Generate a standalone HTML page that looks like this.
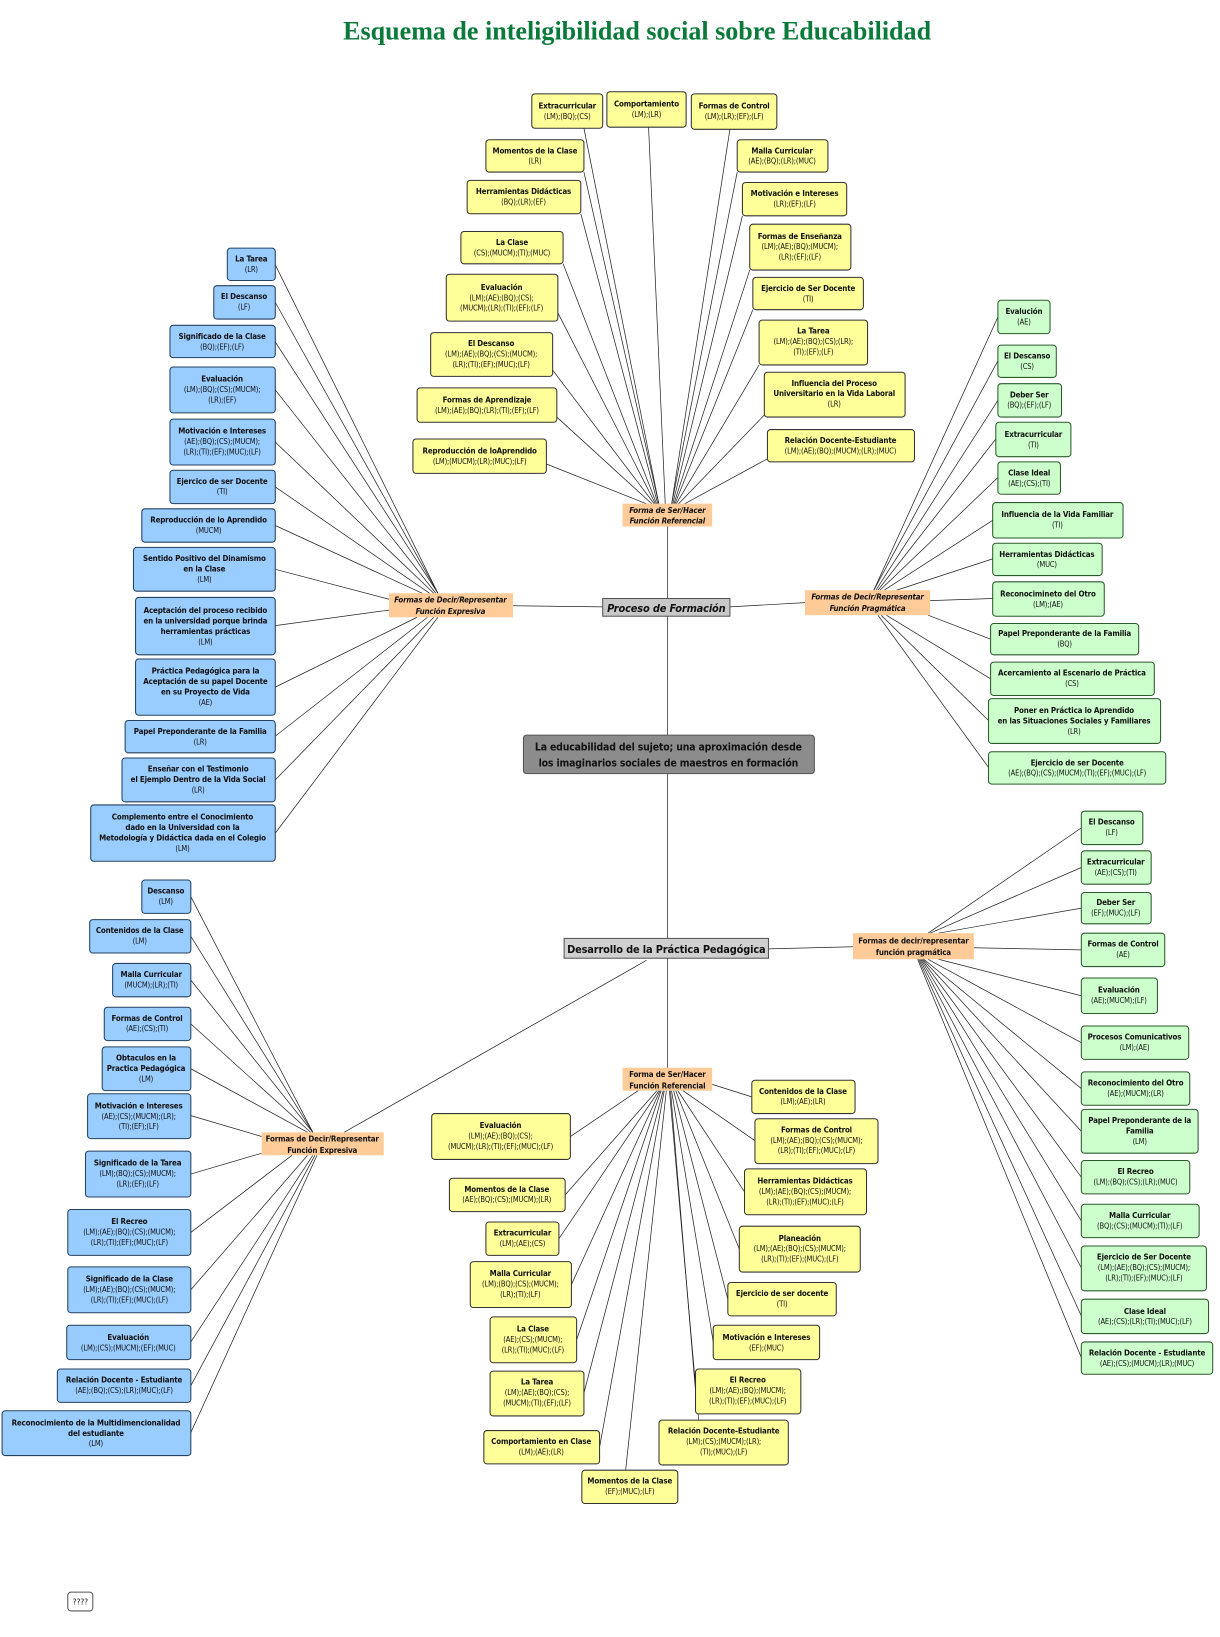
<!DOCTYPE html>
<html><head><meta charset="utf-8"><style>
html,body{margin:0;padding:0;background:#fff;}
svg{display:block}
text{font-family:"Liberation Sans Narrow","DejaVu Sans Condensed","Liberation Sans",sans-serif;text-anchor:middle;fill:#111;font-size:7.2px;letter-spacing:-0.15px}
.t{font-weight:bold;font-size:7.6px}
.y rect{fill:#ffff99;stroke:#333;stroke-width:1}
.b rect{fill:#99ccff;stroke:#24425f;stroke-width:1}
.g rect{fill:#ccffcc;stroke:#2d5a2d;stroke-width:1}
.h rect{fill:#ffcc99;stroke:none}
.h text{font-style:italic;font-weight:bold;font-size:7.6px}
.c rect{stroke:#555;stroke-width:1}
line{stroke:#222;stroke-width:0.7}
</style></head><body>
<svg width="1220" height="1637" viewBox="0 0 1170 1570" preserveAspectRatio="none" xmlns="http://www.w3.org/2000/svg">
<text x="611" y="38" style="font-family:'Liberation Serif',serif;font-size:25px;font-weight:bold;fill:#0a7a3a;letter-spacing:0">Esquema de inteligibilidad social sobre Educabilidad</text>

<g>
<line x1="560" y1="123" x2="632" y2="484"/><line x1="622" y1="122" x2="638" y2="484"/><line x1="700" y1="124" x2="644" y2="484"/>
<line x1="560" y1="165" x2="632" y2="484"/><line x1="557" y1="205" x2="631" y2="484"/><line x1="540" y1="253" x2="630" y2="484"/>
<line x1="535" y1="300" x2="629" y2="484"/><line x1="530" y1="355" x2="628" y2="484"/><line x1="534" y1="400" x2="626" y2="484"/>
<line x1="524" y1="445" x2="622" y2="484"/>
<line x1="707" y1="165" x2="644" y2="484"/><line x1="712" y1="207" x2="645" y2="484"/><line x1="719" y1="259" x2="646" y2="484"/>
<line x1="722" y1="297" x2="647" y2="484"/><line x1="728" y1="350" x2="648" y2="484"/><line x1="733" y1="398" x2="650" y2="484"/>
<line x1="736" y1="440" x2="655" y2="484"/>
<line x1="640" y1="505" x2="640" y2="574"/><line x1="578" y1="582" x2="492" y2="581"/><line x1="700" y1="582" x2="772" y2="578"/>
<line x1="640" y1="591" x2="640" y2="705"/><line x1="640" y1="742" x2="640" y2="900"/>
<line x1="737" y1="910" x2="818" y2="908"/><line x1="620" y1="921" x2="330" y2="1086"/><line x1="640" y1="919" x2="640" y2="1024"/>
<line x1="264" y1="254" x2="420" y2="569"/><line x1="264" y1="290" x2="420" y2="569"/><line x1="264" y1="328" x2="420" y2="569"/>
<line x1="264" y1="374" x2="418" y2="569"/><line x1="264" y1="424" x2="416" y2="569"/><line x1="264" y1="467" x2="412" y2="569"/>
<line x1="264" y1="504" x2="405" y2="569"/><line x1="264" y1="546" x2="374" y2="575"/><line x1="264" y1="600" x2="374" y2="585"/>
<line x1="264" y1="659" x2="400" y2="592"/><line x1="264" y1="706" x2="410" y2="592"/><line x1="264" y1="748" x2="416" y2="592"/>
<line x1="264" y1="799" x2="420" y2="592"/>
<line x1="957" y1="304" x2="838" y2="566"/><line x1="957" y1="346" x2="838" y2="566"/><line x1="957" y1="384" x2="840" y2="566"/>
<line x1="955" y1="421" x2="842" y2="566"/><line x1="957" y1="458" x2="844" y2="566"/><line x1="952" y1="499" x2="848" y2="566"/>
<line x1="952" y1="536" x2="860" y2="566"/><line x1="952" y1="574" x2="892" y2="576"/><line x1="950" y1="613" x2="890" y2="590"/>
<line x1="950" y1="651" x2="850" y2="590"/><line x1="948" y1="691" x2="845" y2="590"/><line x1="948" y1="736" x2="842" y2="590"/>
<line x1="1037" y1="794" x2="890" y2="895"/><line x1="1037" y1="832" x2="892" y2="895"/><line x1="1037" y1="871" x2="900" y2="895"/>
<line x1="1037" y1="911" x2="934" y2="909"/><line x1="1037" y1="955" x2="900" y2="920"/><line x1="1037" y1="1000" x2="890" y2="920"/>
<line x1="1037" y1="1044" x2="886" y2="920"/><line x1="1037" y1="1085" x2="885" y2="920"/><line x1="1037" y1="1129" x2="884" y2="920"/>
<line x1="1037" y1="1171" x2="883" y2="920"/><line x1="1037" y1="1216" x2="882" y2="920"/><line x1="1037" y1="1262" x2="881" y2="920"/>
<line x1="1037" y1="1302" x2="880" y2="920"/>
<line x1="183" y1="860" x2="300" y2="1086"/><line x1="183" y1="898" x2="300" y2="1086"/><line x1="183" y1="940" x2="300" y2="1086"/>
<line x1="183" y1="982" x2="298" y2="1086"/><line x1="183" y1="1025" x2="295" y2="1086"/><line x1="183" y1="1070" x2="251" y2="1090"/>
<line x1="183" y1="1126" x2="251" y2="1106"/><line x1="183" y1="1182" x2="280" y2="1108"/><line x1="183" y1="1237" x2="295" y2="1108"/>
<line x1="183" y1="1287" x2="300" y2="1108"/><line x1="183" y1="1329" x2="302" y2="1108"/><line x1="183" y1="1374" x2="304" y2="1108"/>
<line x1="547" y1="1090" x2="612" y2="1046"/><line x1="542" y1="1146" x2="630" y2="1046"/><line x1="536" y1="1188" x2="632" y2="1046"/>
<line x1="548" y1="1232" x2="633" y2="1046"/><line x1="553" y1="1285" x2="634" y2="1046"/><line x1="560" y1="1336" x2="636" y2="1046"/>
<line x1="575" y1="1388" x2="637" y2="1046"/><line x1="600" y1="1410" x2="639" y2="1046"/>
<line x1="721" y1="1052" x2="683" y2="1040"/><line x1="724" y1="1094" x2="655" y2="1046"/><line x1="714" y1="1143" x2="650" y2="1046"/>
<line x1="709" y1="1198" x2="648" y2="1046"/><line x1="698" y1="1246" x2="646" y2="1046"/><line x1="684" y1="1287" x2="644" y2="1046"/>
<line x1="667" y1="1334" x2="643" y2="1046"/><line x1="670" y1="1362" x2="642" y2="1046"/>
</g>

<g class="h"><rect x="597" y="483" width="86" height="22"/><text x="640" y="492">Forma de Ser/Hacer</text><text x="640" y="502">Función Referencial</text></g>
<g class="h"><rect x="373" y="569" width="119" height="23"/><text x="432" y="578">Formas de Decir/Representar</text><text x="432" y="589">Función Expresiva</text></g>
<g class="h"><rect x="772" y="566" width="120" height="24"/><text x="832" y="575">Formas de Decir/Representar</text><text x="832" y="586">Función Pragmática</text></g>
<g class="h"><rect x="818" y="895" width="116" height="25"/><text x="876" y="905" style="font-style:normal">Formas de decir/representar</text><text x="876" y="916" style="font-style:normal">función pragmática</text></g>
<g class="h"><rect x="251" y="1086" width="117" height="22"/><text x="309" y="1095" style="font-style:normal">Formas de Decir/Representar</text><text x="309" y="1106" style="font-style:normal">Función Expresiva</text></g>
<g class="h"><rect x="597" y="1024" width="86" height="22"/><text x="640" y="1033" style="font-style:normal">Forma de Ser/Hacer</text><text x="640" y="1044" style="font-style:normal">Función Referencial</text></g>

<g class="c"><rect x="578" y="574" width="122" height="17" style="fill:#c8c8c8"/><text x="639" y="587" style="font-size:10.5px;font-weight:bold;font-style:italic">Proceso de Formación</text></g>
<g class="c"><rect x="502" y="705" width="279" height="37" rx="3" style="fill:#8c8c8c"/><text x="641" y="720" style="font-size:10px;font-weight:bold">La educabilidad del sujeto; una aproximación desde</text><text x="641" y="735" style="font-size:10px;font-weight:bold">los imaginarios sociales de maestros en formación</text></g>
<g class="c"><rect x="541" y="900" width="196" height="19" style="fill:#d0d0d0"/><text x="639" y="914" style="font-size:10.5px;font-weight:bold">Desarrollo de la Práctica Pedagógica</text></g>

<g class="y">
<rect x="510" y="90" width="68" height="33" rx="3"/><text class="t" x="544" y="104">Extracurricular</text><text x="544" y="114">(LM);(BQ);(CS)</text>
<rect x="582" y="88" width="76" height="34" rx="3"/><text class="t" x="620" y="102">Comportamiento</text><text x="620" y="112">(LM);(LR)</text>
<rect x="663" y="90" width="82" height="34" rx="3"/><text class="t" x="704" y="104">Formas de Control</text><text x="704" y="114">(LM);(LR);(EF);(LF)</text>
<rect x="466" y="134" width="94" height="31" rx="3"/><text class="t" x="513" y="147">Momentos de la Clase</text><text x="513" y="157">(LR)</text>
<rect x="707" y="134" width="87" height="31" rx="3"/><text class="t" x="750" y="147">Malla Curricular</text><text x="750" y="157">(AE);(BQ);(LR);(MUC)</text>
<rect x="448" y="173" width="109" height="32" rx="3"/><text class="t" x="502" y="186">Herramientas Didácticas</text><text x="502" y="196">(BQ);(LR);(EF)</text>
<rect x="712" y="175" width="100" height="32" rx="3"/><text class="t" x="762" y="188">Motivación e Intereses</text><text x="762" y="198">(LR);(EF);(LF)</text>
<rect x="442" y="222" width="98" height="31" rx="3"/><text class="t" x="491" y="235">La Clase</text><text x="491" y="245">(CS);(MUCM);(TI);(MUC)</text>
<rect x="719" y="215" width="97" height="44" rx="3"/><text class="t" x="767" y="229">Formas de Enseñanza</text><text x="767" y="239">(LM);(AE);(BQ);(MUCM);</text><text x="767" y="249">(LR);(EF);(LF)</text>
<rect x="428" y="263" width="107" height="45" rx="3"/><text class="t" x="481" y="278">Evaluación</text><text x="481" y="288">(LM);(AE);(BQ);(CS);</text><text x="481" y="298">(MUCM);(LR);(TI);(EF);(LF)</text>
<rect x="722" y="266" width="106" height="31" rx="3"/><text class="t" x="775" y="279">Ejercicio de Ser Docente</text><text x="775" y="289">(TI)</text>
<rect x="413" y="319" width="117" height="42" rx="3"/><text class="t" x="471" y="332">El Descanso</text><text x="471" y="342">(LM);(AE);(BQ);(CS);(MUCM);</text><text x="471" y="352">(LR);(TI);(EF);(MUC);(LF)</text>
<rect x="728" y="307" width="104" height="43" rx="3"/><text class="t" x="780" y="320">La Tarea</text><text x="780" y="330">(LM);(AE);(BQ);(CS);(LR);</text><text x="780" y="340">(TI);(EF);(LF)</text>
<rect x="400" y="372" width="134" height="33" rx="3"/><text class="t" x="467" y="386">Formas de Aprendizaje</text><text x="467" y="396">(LM);(AE);(BQ);(LR);(TI);(EF);(LF)</text>
<rect x="733" y="357" width="135" height="43" rx="3"/><text class="t" x="800" y="370">Influencia del Proceso</text><text class="t" x="800" y="380">Universitario en la Vida Laboral</text><text x="800" y="390">(LR)</text>
<rect x="396" y="421" width="128" height="33" rx="3"/><text class="t" x="460" y="435">Reproducción de loAprendido</text><text x="460" y="445">(LM);(MUCM);(LR);(MUC);(LF)</text>
<rect x="736" y="412" width="141" height="31" rx="3"/><text class="t" x="806" y="425">Relación Docente-Estudiante</text><text x="806" y="435">(LM);(AE);(BQ);(MUCM);(LR);(MUC)</text>
</g>

<g class="b">
<rect x="218" y="238" width="46" height="31" rx="3"/><text class="t" x="241" y="251">La Tarea</text><text x="241" y="261">(LR)</text>
<rect x="205" y="274" width="59" height="32" rx="3"/><text class="t" x="234" y="287">El Descanso</text><text x="234" y="297">(LF)</text>
<rect x="163" y="312" width="101" height="31" rx="3"/><text class="t" x="213" y="325">Significado de la Clase</text><text x="213" y="335">(BQ);(EF);(LF)</text>
<rect x="163" y="352" width="101" height="44" rx="3"/><text class="t" x="213" y="366">Evaluación</text><text x="213" y="376">(LM);(BQ);(CS);(MUCM);</text><text x="213" y="386">(LR);(EF)</text>
<rect x="163" y="402" width="101" height="44" rx="3"/><text class="t" x="213" y="416">Motivación e Intereses</text><text x="213" y="426">(AE);(BQ);(CS);(MUCM);</text><text x="213" y="436">(LR);(TI);(EF);(MUC);(LF)</text>
<rect x="163" y="451" width="101" height="32" rx="3"/><text class="t" x="213" y="464">Ejercico de ser Docente</text><text x="213" y="474">(TI)</text>
<rect x="136" y="488" width="128" height="32" rx="3"/><text class="t" x="200" y="501">Reproducción de lo Aprendido</text><text x="200" y="511">(MUCM)</text>
<rect x="128" y="525" width="136" height="42" rx="3"/><text class="t" x="196" y="538">Sentido Positivo del Dinamismo</text><text class="t" x="196" y="548">en la Clase</text><text x="196" y="558">(LM)</text>
<rect x="130" y="573" width="134" height="55" rx="3"/><text class="t" x="197" y="588">Aceptación del proceso recibido</text><text class="t" x="197" y="598">en la universidad porque brinda</text><text class="t" x="197" y="608">herramientas prácticas</text><text x="197" y="618">(LM)</text>
<rect x="130" y="632" width="134" height="54" rx="3"/><text class="t" x="197" y="646">Práctica Pedagógica para la</text><text class="t" x="197" y="656">Aceptación de su papel Docente</text><text class="t" x="197" y="666">en su Proyecto de Vida</text><text x="197" y="676">(AE)</text>
<rect x="120" y="691" width="144" height="31" rx="3"/><text class="t" x="192" y="704">Papel Preponderante de la Familia</text><text x="192" y="714">(LR)</text>
<rect x="117" y="727" width="147" height="42" rx="3"/><text class="t" x="190" y="740">Enseñar con el Testimonio</text><text class="t" x="190" y="750">el Ejemplo Dentro de la Vida Social</text><text x="190" y="760">(LR)</text>
<rect x="87" y="772" width="177" height="54" rx="3"/><text class="t" x="175" y="786">Complemento entre el Conocimiento</text><text class="t" x="175" y="796">dado en la Universidad con la</text><text class="t" x="175" y="806">Metodología y Didáctica dada en el Colegio</text><text x="175" y="816">(LM)</text>
</g>

<g class="g">
<rect x="957" y="288" width="50" height="32" rx="3"/><text class="t" x="982" y="301">Evalución</text><text x="982" y="311">(AE)</text>
<rect x="957" y="331" width="56" height="31" rx="3"/><text class="t" x="985" y="344">El Descanso</text><text x="985" y="354">(CS)</text>
<rect x="957" y="368" width="61" height="32" rx="3"/><text class="t" x="987" y="381">Deber Ser</text><text x="987" y="391">(BQ);(EF);(LF)</text>
<rect x="955" y="405" width="72" height="33" rx="3"/><text class="t" x="991" y="419">Extracurricular</text><text x="991" y="429">(TI)</text>
<rect x="957" y="443" width="60" height="31" rx="3"/><text class="t" x="987" y="456">Clase Ideal</text><text x="987" y="466">(AE);(CS);(TI)</text>
<rect x="952" y="482" width="125" height="34" rx="3"/><text class="t" x="1014" y="496">Influencia de la Vida Familiar</text><text x="1014" y="506">(TI)</text>
<rect x="952" y="521" width="105" height="31" rx="3"/><text class="t" x="1004" y="534">Herramientas Didácticas</text><text x="1004" y="544">(MUC)</text>
<rect x="952" y="558" width="107" height="33" rx="3"/><text class="t" x="1005" y="572">Reconocimineto del Otro</text><text x="1005" y="582">(LM);(AE)</text>
<rect x="950" y="598" width="142" height="30" rx="3"/><text class="t" x="1021" y="610">Papel Preponderante de la Familia</text><text x="1021" y="620">(BQ)</text>
<rect x="950" y="635" width="157" height="32" rx="3"/><text class="t" x="1028" y="648">Acercamiento al Escenario de Práctica</text><text x="1028" y="658">(CS)</text>
<rect x="948" y="670" width="165" height="43" rx="3"/><text class="t" x="1030" y="684">Poner en Práctica lo Aprendido</text><text class="t" x="1030" y="694">en las Situaciones Sociales y Familiares</text><text x="1030" y="704">(LR)</text>
<rect x="948" y="721" width="170" height="31" rx="3"/><text class="t" x="1033" y="734">Ejercicio de ser Docente</text><text x="1033" y="744">(AE);(BQ);(CS);(MUCM);(TI);(EF);(MUC);(LF)</text>
</g>

<g class="g">
<rect x="1037" y="778" width="59" height="32" rx="3"/><text class="t" x="1066" y="791">El Descanso</text><text x="1066" y="801">(LF)</text>
<rect x="1037" y="816" width="67" height="32" rx="3"/><text class="t" x="1070" y="829">Extracurricular</text><text x="1070" y="839">(AE);(CS);(TI)</text>
<rect x="1037" y="856" width="67" height="30" rx="3"/><text class="t" x="1070" y="868">Deber Ser</text><text x="1070" y="878">(EF);(MUC);(LF)</text>
<rect x="1037" y="895" width="80" height="32" rx="3"/><text class="t" x="1077" y="908">Formas de Control</text><text x="1077" y="918">(AE)</text>
<rect x="1037" y="938" width="73" height="34" rx="3"/><text class="t" x="1073" y="952">Evaluación</text><text x="1073" y="962">(AE);(MUCM);(LF)</text>
<rect x="1037" y="984" width="103" height="32" rx="3"/><text class="t" x="1088" y="997">Procesos Comunicativos</text><text x="1088" y="1007">(LM);(AE)</text>
<rect x="1037" y="1028" width="104" height="32" rx="3"/><text class="t" x="1089" y="1041">Reconocimiento del Otro</text><text x="1089" y="1051">(AE);(MUCM);(LR)</text>
<rect x="1037" y="1064" width="112" height="42" rx="3"/><text class="t" x="1093" y="1077">Papel Preponderante de la</text><text class="t" x="1093" y="1087">Familia</text><text x="1093" y="1097">(LM)</text>
<rect x="1037" y="1113" width="104" height="32" rx="3"/><text class="t" x="1089" y="1126">El Recreo</text><text x="1089" y="1136">(LM);(BQ);(CS);(LR);(MUC)</text>
<rect x="1037" y="1155" width="113" height="32" rx="3"/><text class="t" x="1093" y="1168">Malla Curricular</text><text x="1093" y="1178">(BQ);(CS);(MUCM);(TI);(LF)</text>
<rect x="1037" y="1195" width="120" height="43" rx="3"/><text class="t" x="1097" y="1208">Ejercicio de Ser Docente</text><text x="1097" y="1218">(LM);(AE);(BQ);(CS);(MUCM);</text><text x="1097" y="1228">(LR);(TI);(EF);(MUC);(LF)</text>
<rect x="1037" y="1246" width="122" height="33" rx="3"/><text class="t" x="1098" y="1260">Clase Ideal</text><text x="1098" y="1270">(AE);(CS);(LR);(TI);(MUC);(LF)</text>
<rect x="1037" y="1287" width="126" height="31" rx="3"/><text class="t" x="1100" y="1300">Relación Docente - Estudiante</text><text x="1100" y="1310">(AE);(CS);(MUCM);(LR);(MUC)</text>
</g>

<g class="b">
<rect x="136" y="844" width="47" height="32" rx="3"/><text class="t" x="159" y="857">Descanso</text><text x="159" y="867">(LM)</text>
<rect x="86" y="882" width="97" height="32" rx="3"/><text class="t" x="134" y="895">Contenidos de la Clase</text><text x="134" y="905">(LM)</text>
<rect x="108" y="924" width="75" height="32" rx="3"/><text class="t" x="145" y="937">Malla Curricular</text><text x="145" y="947">(MUCM);(LR);(TI)</text>
<rect x="100" y="966" width="83" height="32" rx="3"/><text class="t" x="141" y="979">Formas de Control</text><text x="141" y="989">(AE);(CS);(TI)</text>
<rect x="98" y="1004" width="85" height="42" rx="3"/><text class="t" x="140" y="1017">Obtaculos en la</text><text class="t" x="140" y="1027">Practica Pedagógica</text><text x="140" y="1037">(LM)</text>
<rect x="84" y="1049" width="99" height="43" rx="3"/><text class="t" x="133" y="1063">Motivación e Intereses</text><text x="133" y="1073">(AE);(CS);(MUCM);(LR);</text><text x="133" y="1083">(TI);(EF);(LF)</text>
<rect x="82" y="1104" width="101" height="44" rx="3"/><text class="t" x="132" y="1118">Significado de la Tarea</text><text x="132" y="1128">(LM);(BQ);(CS);(MUCM);</text><text x="132" y="1138">(LR);(EF);(LF)</text>
<rect x="65" y="1160" width="118" height="44" rx="3"/><text class="t" x="124" y="1174">El Recreo</text><text x="124" y="1184">(LM);(AE);(BQ);(CS);(MUCM);</text><text x="124" y="1194">(LR);(TI);(EF);(MUC);(LF)</text>
<rect x="65" y="1215" width="118" height="44" rx="3"/><text class="t" x="124" y="1229">Significado de la Clase</text><text x="124" y="1239">(LM);(AE);(BQ);(CS);(MUCM);</text><text x="124" y="1249">(LR);(TI);(EF);(MUC);(LF)</text>
<rect x="64" y="1271" width="119" height="33" rx="3"/><text class="t" x="123" y="1285">Evaluación</text><text x="123" y="1295">(LM);(CS);(MUCM);(EF);(MUC)</text>
<rect x="55" y="1313" width="128" height="32" rx="3"/><text class="t" x="119" y="1326">Relación Docente - Estudiante</text><text x="119" y="1336">(AE);(BQ);(CS);(LR);(MUC);(LF)</text>
<rect x="2" y="1353" width="181" height="43" rx="3"/><text class="t" x="92" y="1367">Reconocimiento de la Multidimencionalidad</text><text class="t" x="92" y="1377">del estudiante</text><text x="92" y="1387">(LM)</text>
</g>

<g class="y">
<rect x="414" y="1068" width="133" height="44" rx="3"/><text class="t" x="480" y="1082">Evaluación</text><text x="480" y="1092">(LM);(AE);(BQ);(CS);</text><text x="480" y="1102">(MUCM);(LR);(TI);(EF);(MUC);(LF)</text>
<rect x="431" y="1130" width="111" height="32" rx="3"/><text class="t" x="486" y="1143">Momentos de la Clase</text><text x="486" y="1153">(AE);(BQ);(CS);(MUCM);(LR)</text>
<rect x="466" y="1172" width="70" height="32" rx="3"/><text class="t" x="501" y="1185">Extracurricular</text><text x="501" y="1195">(LM);(AE);(CS)</text>
<rect x="451" y="1210" width="97" height="44" rx="3"/><text class="t" x="499" y="1224">Malla Curricular</text><text x="499" y="1234">(LM);(BQ);(CS);(MUCM);</text><text x="499" y="1244">(LR);(TI);(LF)</text>
<rect x="470" y="1263" width="83" height="44" rx="3"/><text class="t" x="511" y="1277">La Clase</text><text x="511" y="1287">(AE);(CS);(MUCM);</text><text x="511" y="1297">(LR);(TI);(MUC);(LF)</text>
<rect x="470" y="1315" width="90" height="43" rx="3"/><text class="t" x="515" y="1328">La Tarea</text><text x="515" y="1338">(LM);(AE);(BQ);(CS);</text><text x="515" y="1348">(MUCM);(TI);(EF);(LF)</text>
<rect x="464" y="1372" width="111" height="32" rx="3"/><text class="t" x="519" y="1385">Comportamiento en Clase</text><text x="519" y="1395">(LM);(AE);(LR)</text>
<rect x="558" y="1410" width="92" height="32" rx="3"/><text class="t" x="604" y="1423">Momentos de la Clase</text><text x="604" y="1433">(EF);(MUC);(LF)</text>
<rect x="721" y="1036" width="99" height="32" rx="3"/><text class="t" x="770" y="1049">Contenidos de la Clase</text><text x="770" y="1059">(LM);(AE);(LR)</text>
<rect x="724" y="1073" width="118" height="43" rx="3"/><text class="t" x="783" y="1086">Formas de Control</text><text x="783" y="1096">(LM);(AE);(BQ);(CS);(MUCM);</text><text x="783" y="1106">(LR);(TI);(EF);(MUC);(LF)</text>
<rect x="714" y="1121" width="117" height="44" rx="3"/><text class="t" x="772" y="1135">Herramientas Didácticas</text><text x="772" y="1145">(LM);(AE);(BQ);(CS);(MUCM);</text><text x="772" y="1155">(LR);(TI);(EF);(MUC);(LF)</text>
<rect x="709" y="1176" width="116" height="44" rx="3"/><text class="t" x="767" y="1190">Planeación</text><text x="767" y="1200">(LM);(AE);(BQ);(CS);(MUCM);</text><text x="767" y="1210">(LR);(TI);(EF);(MUC);(LF)</text>
<rect x="698" y="1230" width="104" height="32" rx="3"/><text class="t" x="750" y="1243">Ejercicio de ser docente</text><text x="750" y="1253">(TI)</text>
<rect x="684" y="1271" width="102" height="33" rx="3"/><text class="t" x="735" y="1285">Motivación e Intereses</text><text x="735" y="1295">(EF);(MUC)</text>
<rect x="667" y="1313" width="101" height="43" rx="3"/><text class="t" x="717" y="1326">El Recreo</text><text x="717" y="1336">(LM);(AE);(BQ);(MUCM);</text><text x="717" y="1346">(LR);(TI);(EF);(MUC);(LF)</text>
<rect x="632" y="1362" width="124" height="43" rx="3"/><text class="t" x="694" y="1375">Relación Docente-Estudiante</text><text x="694" y="1385">(LM);(CS);(MUCM);(LR);</text><text x="694" y="1395">(TI);(MUC);(LF)</text>
</g>

<rect x="65" y="1527" width="24" height="18" rx="3" style="fill:#fff;stroke:#555;stroke-width:1"/><text x="77" y="1539" style="font-size:8px">????</text>
</svg>
</body></html>
